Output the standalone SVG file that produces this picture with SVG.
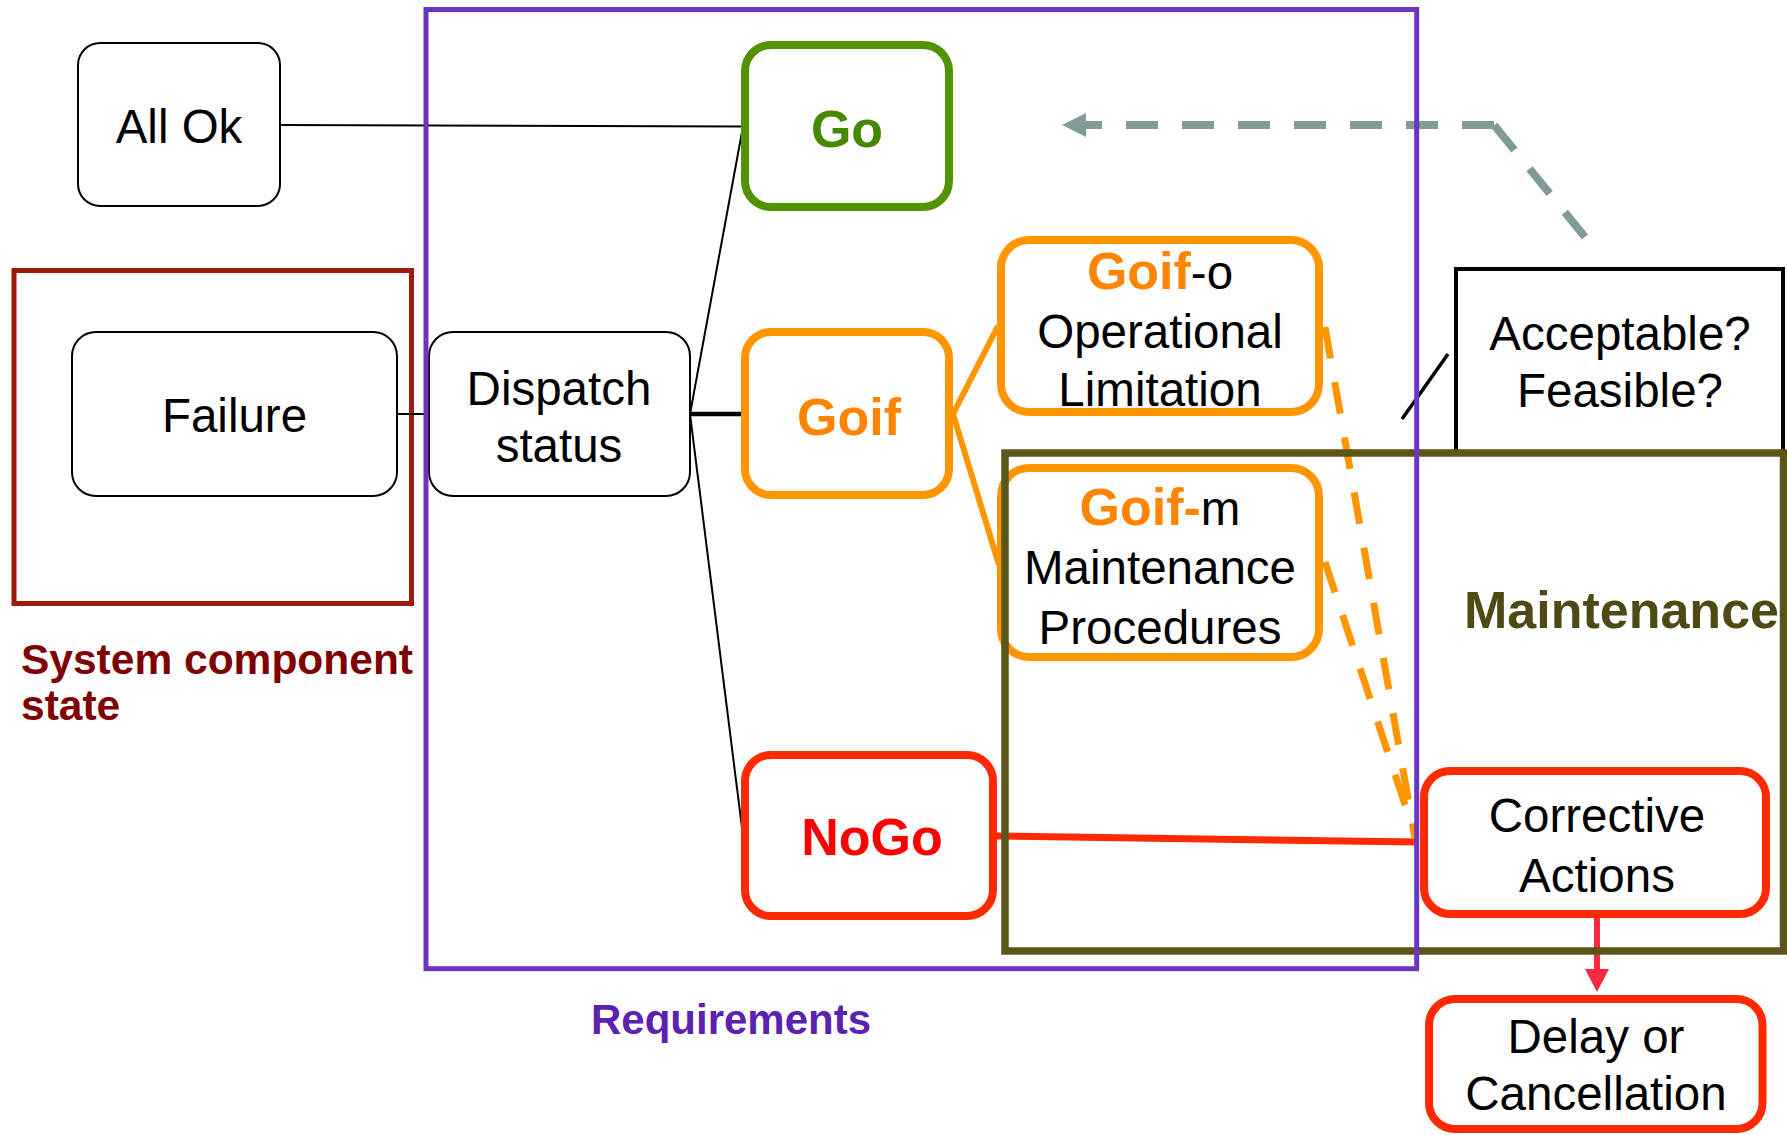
<svg xmlns="http://www.w3.org/2000/svg" width="1787" height="1135" viewBox="0 0 1787 1135">
  <style>
    text { font-family: "Liberation Sans", Arial, sans-serif; font-size: 47.5px; fill: #000; }
    .c { text-anchor: middle; }
    .b { font-weight: bold; font-size: 52px; }
    .thin { fill: #fff; stroke: #000; stroke-width: 2; }
    .go { fill: #fff; stroke: #529400; stroke-width: 8; }
    .amber { fill: #fff; stroke: #ff9600; stroke-width: 8; }
    .red { fill: #fff; stroke: #ff2a00; stroke-width: 8; }
    .frame { fill: none; }
    .wire { fill: none; stroke: #000; stroke-width: 2; }
    .orange { fill: none; stroke: #ff9600; stroke-width: 6; }
    .odash { fill: none; stroke: #ff9600; stroke-width: 7; stroke-dasharray: 32 24; }
    .tdash { fill: none; stroke: #7f9c97; stroke-width: 8; stroke-dasharray: 32 24; }
    .state { font-weight: bold; font-size: 42.5px; fill: #7f0000; }
  </style>
  <defs>
    <marker id="tealHead" markerUnits="userSpaceOnUse" markerWidth="26" markerHeight="26" refX="0" refY="12" orient="auto">
      <polygon points="0,0 24,12 0,24" fill="#7f9c97"/>
    </marker>
    <marker id="redHead" markerUnits="userSpaceOnUse" markerWidth="26" markerHeight="26" refX="0" refY="12" orient="auto">
      <polygon points="0,0 23,12 0,24" fill="#f5293f"/>
    </marker>
  </defs>

  <rect width="1787" height="1135" fill="#fff"/>

  <!-- grouping frames -->
  <g id="system-component-state">
    <rect class="frame" x="14" y="270.5" width="397.5" height="333" stroke="#9e1b0c" stroke-width="5"/>
    <text class="state" x="21" y="674">System component</text>
    <text class="state" x="21" y="720">state</text>
  </g>

  <!-- connectors -->
  <g id="connectors">
    <path class="wire" d="M280,125 L743,126.5"/>
    <path class="wire" d="M743,126.5 L690,414"/>
    <path class="wire" d="M690,414 L743,836"/>
    <path class="wire" d="M397,414 L429,414"/>
    <path d="M690,414 L745,414" fill="none" stroke="#000" stroke-width="4.5"/>
    <path class="orange" d="M953,414 L998,326"/>
    <path class="orange" d="M953,414 L999,565"/>
    <path d="M997,836 L1417,842" fill="none" stroke="#ff2a00" stroke-width="7"/>
    <path class="odash" d="M1325,327 L1415,838"/>
    <path class="odash" d="M1325,562 L1416,838"/>
    <path d="M1448,354 L1402,419" fill="none" stroke="#000" stroke-width="3.5"/>
    <path class="tdash" d="M1585,237 L1494,125"/>
    <path class="tdash" d="M1494,125 L1086,125" marker-end="url(#tealHead)"/>
    <path d="M1597,918 L1597,969" fill="none" stroke="#f5293f" stroke-width="6" marker-end="url(#redHead)"/>
  </g>

  <g id="all-ok">
    <rect class="thin" x="78" y="43" width="202" height="163" rx="22"/>
    <text class="c" x="179" y="143">All Ok</text>
  </g>

  <g id="failure">
    <rect class="thin" x="72" y="332" width="325" height="164" rx="24"/>
    <text class="c" x="234.5" y="432">Failure</text>
  </g>

  <g id="dispatch-status">
    <rect class="thin" x="429" y="332" width="261" height="164" rx="24"/>
    <text class="c" x="559" y="405">Dispatch</text>
    <text class="c" x="559" y="462">status</text>
  </g>

  <g id="go">
    <rect class="go" x="745" y="45" width="204" height="162" rx="26"/>
    <text class="c b" x="847" y="146.5" style="fill:#478800">Go</text>
  </g>

  <g id="goif">
    <rect class="amber" x="745" y="332" width="204" height="163" rx="26"/>
    <text class="c b" x="849" y="435" style="fill:#ff8400">Goif</text>
  </g>

  <g id="goif-o">
    <rect class="amber" x="1001" y="240" width="318" height="172" rx="28"/>
    <text class="c" x="1160" y="289"><tspan class="b" style="fill:#ff8400">Goif</tspan>-o</text>
    <text class="c" x="1160" y="348">Operational</text>
    <text class="c" x="1160" y="406">Limitation</text>
  </g>

  <g id="goif-m">
    <rect class="amber" x="1001" y="468" width="318" height="189" rx="28"/>
    <text class="c" x="1160" y="525"><tspan class="b" style="fill:#ff8400">Goif-</tspan>m</text>
    <text class="c" x="1160" y="584">Maintenance</text>
    <text class="c" x="1160" y="644">Procedures</text>
  </g>

  <g id="nogo">
    <rect class="red" x="745" y="755" width="248" height="161" rx="26"/>
    <text class="c b" x="872" y="855" style="fill:#ff0000">NoGo</text>
  </g>

  <g id="acceptable-feasible">
    <rect x="1456" y="269" width="327" height="184" fill="#fff" stroke="#000" stroke-width="4"/>
    <text class="c" x="1620" y="350">Acceptable?</text>
    <text class="c" x="1620" y="407">Feasible?</text>
  </g>

  <g id="maintenance">
    <rect class="frame" x="1005" y="453" width="778.5" height="498" stroke="#5b5517" stroke-width="7.5"/>
    <text x="1464" y="628" font-weight="bold" style="font-size:52px;fill:#4f4a13">Maintenance</text>
  </g>

  <g id="requirements">
    <rect class="frame" x="426" y="9.5" width="990.7" height="959.2" stroke="#6c35c0" stroke-width="5"/>
    <text x="591" y="1034" font-weight="bold" style="font-size:42px;fill:#5b22b0">Requirements</text>
  </g>

  <g id="corrective-actions">
    <rect class="red" x="1424" y="771" width="342" height="143" rx="26"/>
    <text class="c" x="1597" y="832">Corrective</text>
    <text class="c" x="1597" y="892">Actions</text>
  </g>

  <g id="delay-cancellation">
    <rect class="red" x="1429" y="999" width="333.5" height="130" rx="26"/>
    <text class="c" x="1596" y="1053">Delay or</text>
    <text class="c" x="1596" y="1110">Cancellation</text>
  </g>
</svg>
